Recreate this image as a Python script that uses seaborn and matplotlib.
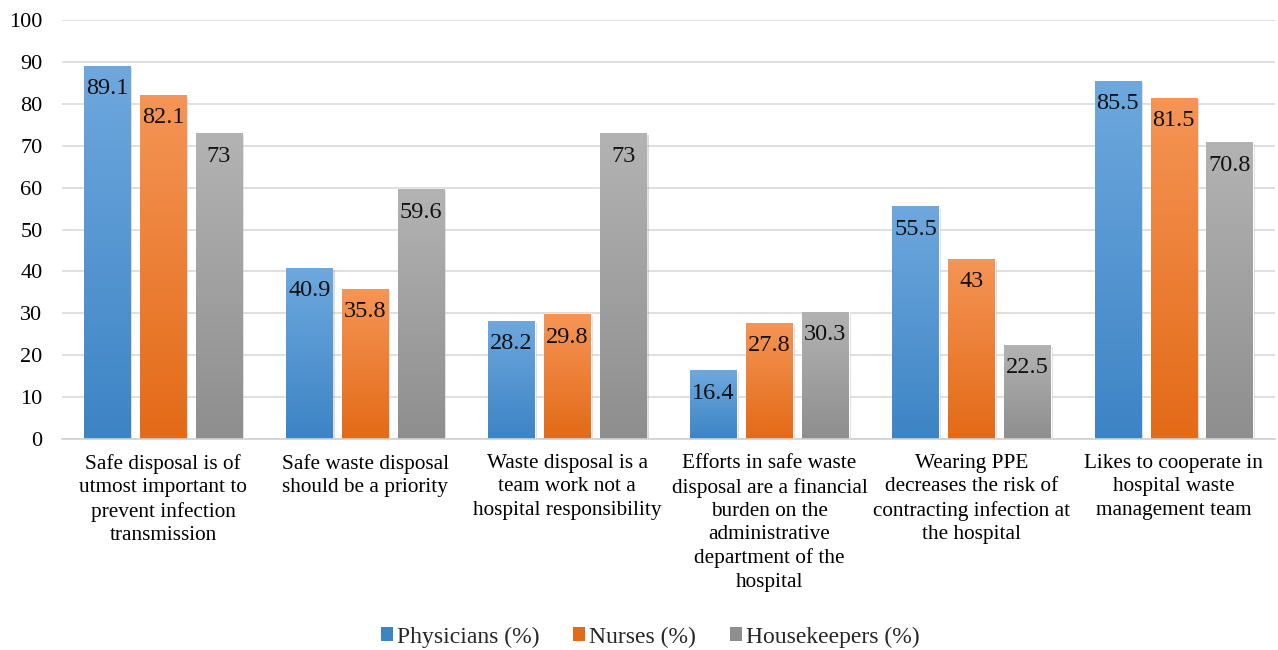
import matplotlib
matplotlib.use('Agg')
import matplotlib.pyplot as plt
import matplotlib.patheffects as pe
import numpy as np
import pandas as pd
import seaborn as sns
from matplotlib.colors import LinearSegmentedColormap
from matplotlib.patches import Patch

categories = [
    "Safe disposal is of\nutmost important to\nprevent infection\ntransmission",
    "Safe waste disposal\nshould be a priority",
    "Waste disposal is a\nteam work not a\nhospital responsibility",
    "Efforts in safe waste\ndisposal are a financial\nburden on the\nadministrative\ndepartment of the\nhospital",
    "Wearing PPE\ndecreases the risk of\ncontracting infection at\nthe hospital",
    "Likes to cooperate in\nhospital waste\nmanagement team",
]
series = ["Physicians (%)", "Nurses (%)", "Housekeepers (%)"]
physicians = [89.1, 40.9, 28.2, 16.4, 55.5, 85.5]
nurses = [82.1, 35.8, 29.8, 27.8, 43, 81.5]
housekeepers = [73, 59.6, 73, 30.3, 22.5, 70.8]

# gradient colours per series (top, bottom)
grad = {
    "Physicians (%)": ("#6ea8de", "#3d84c5"),
    "Nurses (%)": ("#f59556", "#e36a17"),
    "Housekeepers (%)": ("#b3b3b3", "#8e8e8e"),
}

rows = []
for name, vals in zip(series, [physicians, nurses, housekeepers]):
    for cat, v in zip(categories, vals):
        rows.append({"category": cat, "group": name, "value": v})
df = pd.DataFrame(rows)

sns.set_style("white")
plt.rcParams['font.family'] = ['Liberation Serif', 'DejaVu Serif']

fig = plt.figure(figsize=(12.78, 6.5), dpi=100)
ax = fig.add_axes([0.0485, 0.3246, 0.949, 0.6446])

palette = {k: v[1] for k, v in grad.items()}
sns.barplot(data=df, x="category", y="value", hue="group", order=categories,
            hue_order=series, palette=palette, width=0.83, gap=0.17,
            ax=ax, legend=False, saturation=1)

ax.set_ylim(0, 100)
ax.set_yticks(np.arange(0, 101, 10))
ax.yaxis.grid(True, color="#d9d9d9", linewidth=1.2)
ax.set_axisbelow(True)
for s in ["top", "right", "left"]:
    ax.spines[s].set_visible(False)
ax.spines["bottom"].set_color("#d0d0d0")
ax.spines["bottom"].set_linewidth(1.2)
ax.tick_params(axis="both", length=0, colors="black")
ax.tick_params(axis="y", labelsize=16, pad=14)
ax.tick_params(axis="x", labelsize=15.3, pad=11)
ax.set_xlabel("")
ax.set_ylabel("")
for lbl in ax.get_xticklabels():
    lbl.set_linespacing(1.3)

# gradient fill + shadow + value labels
patches = ax.patches
idx = 0
for name, vals in zip(series, [physicians, nurses, housekeepers]):
    cmap = LinearSegmentedColormap.from_list(name, [grad[name][0], grad[name][1]])
    for v in vals:
        p = patches[idx]
        idx += 1
        x0, w, h = p.get_x(), p.get_width(), p.get_height()
        p.set_path_effects([pe.SimplePatchShadow(offset=(1.5, -1.5), shadow_rgbFace="#999999", alpha=0.35),
                            pe.Normal()])
        img = ax.imshow(np.linspace(0, 1, 256).reshape(-1, 1), cmap=cmap,
                        extent=[x0, x0 + w, 0, h], origin="upper", aspect="auto", zorder=p.get_zorder() + 0.1)
        img.set_clip_path(p)
        ax.annotate(f"{v:g}", (x0 + w / 2, h), xytext=(0, -16.5), textcoords="offset points",
                    ha="center", va="center", fontsize=17.5, color="#111111", zorder=5)

ax.set_xlim(-0.5, 5.5)
ax.set_ylim(0, 100)

handles = [Patch(facecolor=grad[n][1], edgecolor="none") for n in series]
fig.legend(handles, series, loc="center", bbox_to_anchor=(0.5086, 0.02), ncol=3, frameon=False,
           fontsize=17, handlelength=0.5, handleheight=0.5, handletextpad=0.17, columnspacing=1.44)

fig.savefig("out.png", dpi=100)
